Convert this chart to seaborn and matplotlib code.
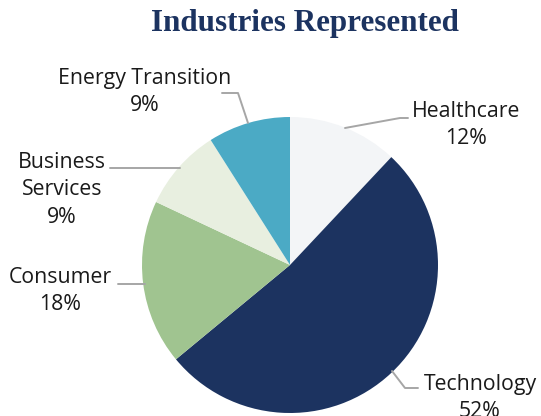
import matplotlib
matplotlib.use("Agg")
import matplotlib.pyplot as plt
import seaborn as sns
from matplotlib.lines import Line2D

# ---- data ----
categories = ["Healthcare", "Technology", "Consumer", "Business Services", "Energy Transition"]
display_labels = ["Healthcare", "Technology", "Consumer", "Business\nServices", "Energy Transition"]
values = [12, 52, 18, 9, 9]
colors = ["#F3F5F7", "#1C3360", "#A0C490", "#E8EFE0", "#4BAAC5"]

sns.set_theme(style="white")
plt.rcParams["font.family"] = ["Open Sans", "DejaVu Sans"]

W, H = 541, 416
fig = plt.figure(figsize=(W / 100, H / 100), dpi=100)
fig.patch.set_facecolor("white")

cx, cy, r = 290, 265, 148
ax = fig.add_axes([(cx - r) / W, (H - cy - r) / H, 2 * r / W, 2 * r / H])
palette = sns.color_palette(colors)
ax.pie(values, colors=palette, startangle=90, counterclock=False, radius=1,
       wedgeprops=dict(linewidth=0))
ax.set_xlim(-1, 1)
ax.set_ylim(-1, 1)
ax.set_aspect("equal")
ax.axis("off")

def fx(x):
    return x / W

def fy(y):
    return 1 - y / H

# label layout (pixel positions) and leader lines
label_pos = {
    "Healthcare": (466, 125),
    "Technology": (480, 398),
    "Consumer": (60, 291),
    "Business Services": (62, 190),
    "Energy Transition": (145, 92),
}
leaders = {
    "Healthcare": [(345, 128), (400, 118), (408, 118)],
    "Technology": [(392, 371), (405, 388), (418, 388)],
    "Consumer": [(145, 284), (118, 284)],
    "Business Services": [(180, 168), (110, 168)],
    "Energy Transition": [(248, 123), (238, 93), (222, 93)],
}

for cat, lab, val in zip(categories, display_labels, values):
    x, y = label_pos[cat]
    fig.text(fx(x), fy(y), f"{lab}\n{val}%", ha="center", va="center",
             fontsize=15.3, color="#1a1a1a", linespacing=1.43)
    pts = leaders[cat]
    fig.add_artist(Line2D([fx(p[0]) for p in pts], [fy(p[1]) for p in pts],
                          color="#A6A6A6", linewidth=1.4, transform=fig.transFigure))

fig.text(fx(305), fy(24), "Industries Represented", ha="center", va="center",
         fontsize=22.4, fontweight="bold", color="#1C3360",
         family=["Liberation Serif", "DejaVu Serif"])

fig.savefig("out.png", dpi=100)
